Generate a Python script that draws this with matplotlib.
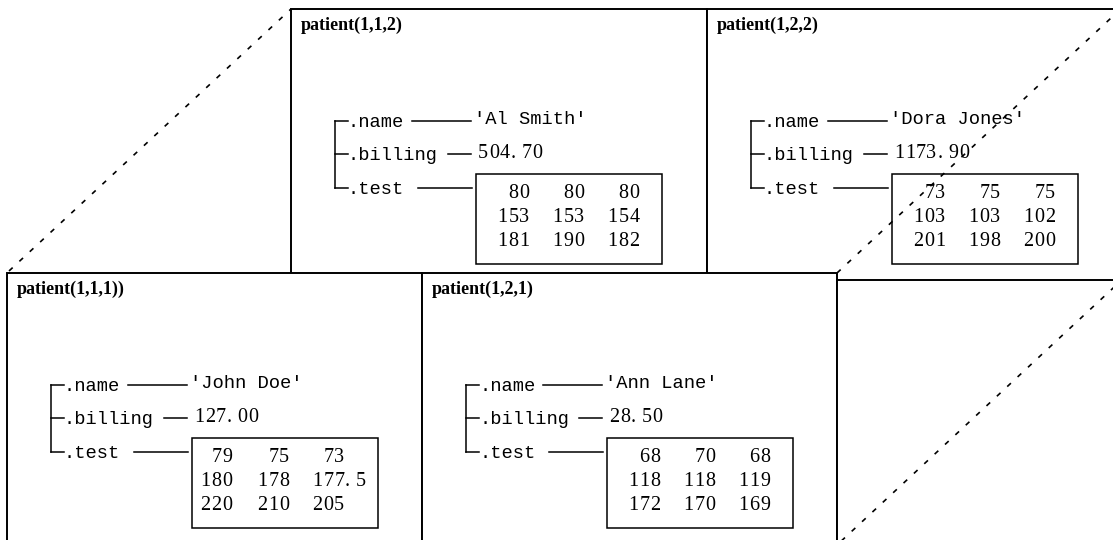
import matplotlib
matplotlib.use("Agg")
import matplotlib.pyplot as plt
from matplotlib.patches import Rectangle

# ---- data ----
titles = ["patient(1,1,2)", "patient(1,2,2)", "patient(1,1,1))", "patient(1,2,1)"]
names = ["'Al Smith'", "'Dora Jones'", "'John Doe'", "'Ann Lane'"]
billing = [504.70, 1173.90, 127.00, 28.50]
test_112 = [[80, 80, 80], [153, 153, 154], [181, 190, 182]]
test_122 = [[73, 75, 75], [103, 103, 102], [201, 198, 200]]
test_111 = [[79, 75, 73], [180, 178, 177.5], [220, 210, 205]]
test_121 = [[68, 70, 68], [118, 118, 119], [172, 170, 169]]
tests = [test_112, test_122, test_111, test_121]
field_labels = [".name", ".billing", ".test"]

# ---- layout (pixel coordinates, y downward) ----
W, H = 1113, 540
origins = [(291, 9), (707, 9), (7, 273), (422, 273)]
box_bottoms = [320, 320, 600, 600]
box_rights = [707, 1130, 422, 837]
col_rights = [[239, 294, 349], [239, 294, 349], [226, 283, 338], [239, 294, 349]]
row_base = [189, 213, 237]

fig = plt.figure(figsize=(W / 100, H / 100), dpi=100)
ax = fig.add_axes([0, 0, 1, 1])
ax.set_xlim(0, W)
ax.set_ylim(H, 0)
ax.axis("off")

SERIF = "Liberation Serif"
MONO = "Liberation Mono"
FS_NUM = 14.5
FS_MONO = 13.5
PITCH = 10.8
lw = 1.4


def digits(x, y, s, z, align="left"):
    """Draw a numeric string char by char on a fixed pitch."""
    if align == "right":
        x = x - len(s) * PITCH
    for k, ch in enumerate(s):
        ax.text(x + k * PITCH, y, ch, fontfamily=SERIF, fontsize=FS_NUM,
                ha="left", va="baseline", zorder=z)


def draw_box(i, z):
    L, T = origins[i]
    ax.add_patch(Rectangle((L, T), box_rights[i] - L, box_bottoms[i] - T,
                           facecolor="white", edgecolor="black", lw=lw, zorder=z))
    ax.text(L + 10, T + 16, titles[i], fontfamily=SERIF, fontweight="bold",
            fontsize=13, ha="left", va="center", zorder=z + 0.5)
    # bracket
    bx = L + 44
    ticks = [T + 112, T + 145, T + 179]
    bases = [T + 118, T + 151, T + 185]
    ax.plot([bx, bx], [ticks[0], ticks[2]], color="black", lw=1.1, zorder=z + 0.5)
    for ty, by, lab in zip(ticks, bases, field_labels):
        ax.plot([bx, bx + 13], [ty, ty], color="black", lw=1.1, zorder=z + 0.5)
        ax.text(L + 57, by, lab, fontfamily=MONO, fontsize=FS_MONO,
                ha="left", va="baseline", zorder=z + 0.5)
    # connectors
    ax.plot([L + 121, L + 180], [ticks[0], ticks[0]], color="black", lw=1.1, zorder=z + 0.5)
    ax.plot([L + 157, L + 180], [ticks[1], ticks[1]], color="black", lw=1.1, zorder=z + 0.5)
    ax.plot([L + 127, L + 181], [ticks[2], ticks[2]], color="black", lw=1.1, zorder=z + 0.5)
    # values
    ax.text(L + 183, T + 115, names[i], fontfamily=MONO, fontsize=FS_MONO,
            ha="left", va="baseline", zorder=z + 0.5)
    digits(L + 187, T + 149, f"{billing[i]:.2f}", z + 0.5)
    # test matrix box
    ax.add_patch(Rectangle((L + 185, T + 165), 186, 90, facecolor="white",
                           edgecolor="black", lw=1.1, zorder=z + 0.5))
    for r, row in enumerate(tests[i]):
        for c, v in enumerate(row):
            s = f"{v:g}"
            ip, _, fp = s.partition(".")
            cx = L + col_rights[i][c]
            y = T + row_base[r]
            digits(cx, y, ip, z + 0.6, align="right")
            if fp:
                digits(cx, y, "." + fp, z + 0.6)


# back row
draw_box(0, 1)
draw_box(1, 1)

# dashed depth lines (the right one crosses the back-right box)
dash = (0, (3, 5.5))
ax.plot([837, 1125], [273, 5], color="black", lw=1.2, linestyle=dash, zorder=3)
ax.plot([9, 291], [271, 9], color="black", lw=1.2, linestyle=dash, zorder=3)

# front row
draw_box(2, 5)
draw_box(3, 5)
ax.add_patch(Rectangle((837, 280), 300, 300, facecolor="white",
                       edgecolor="black", lw=lw, zorder=5))
ax.plot([837, 1125], [545, 277], color="black", lw=1.2, linestyle=dash, zorder=7)

fig.savefig("out.png", dpi=100)
